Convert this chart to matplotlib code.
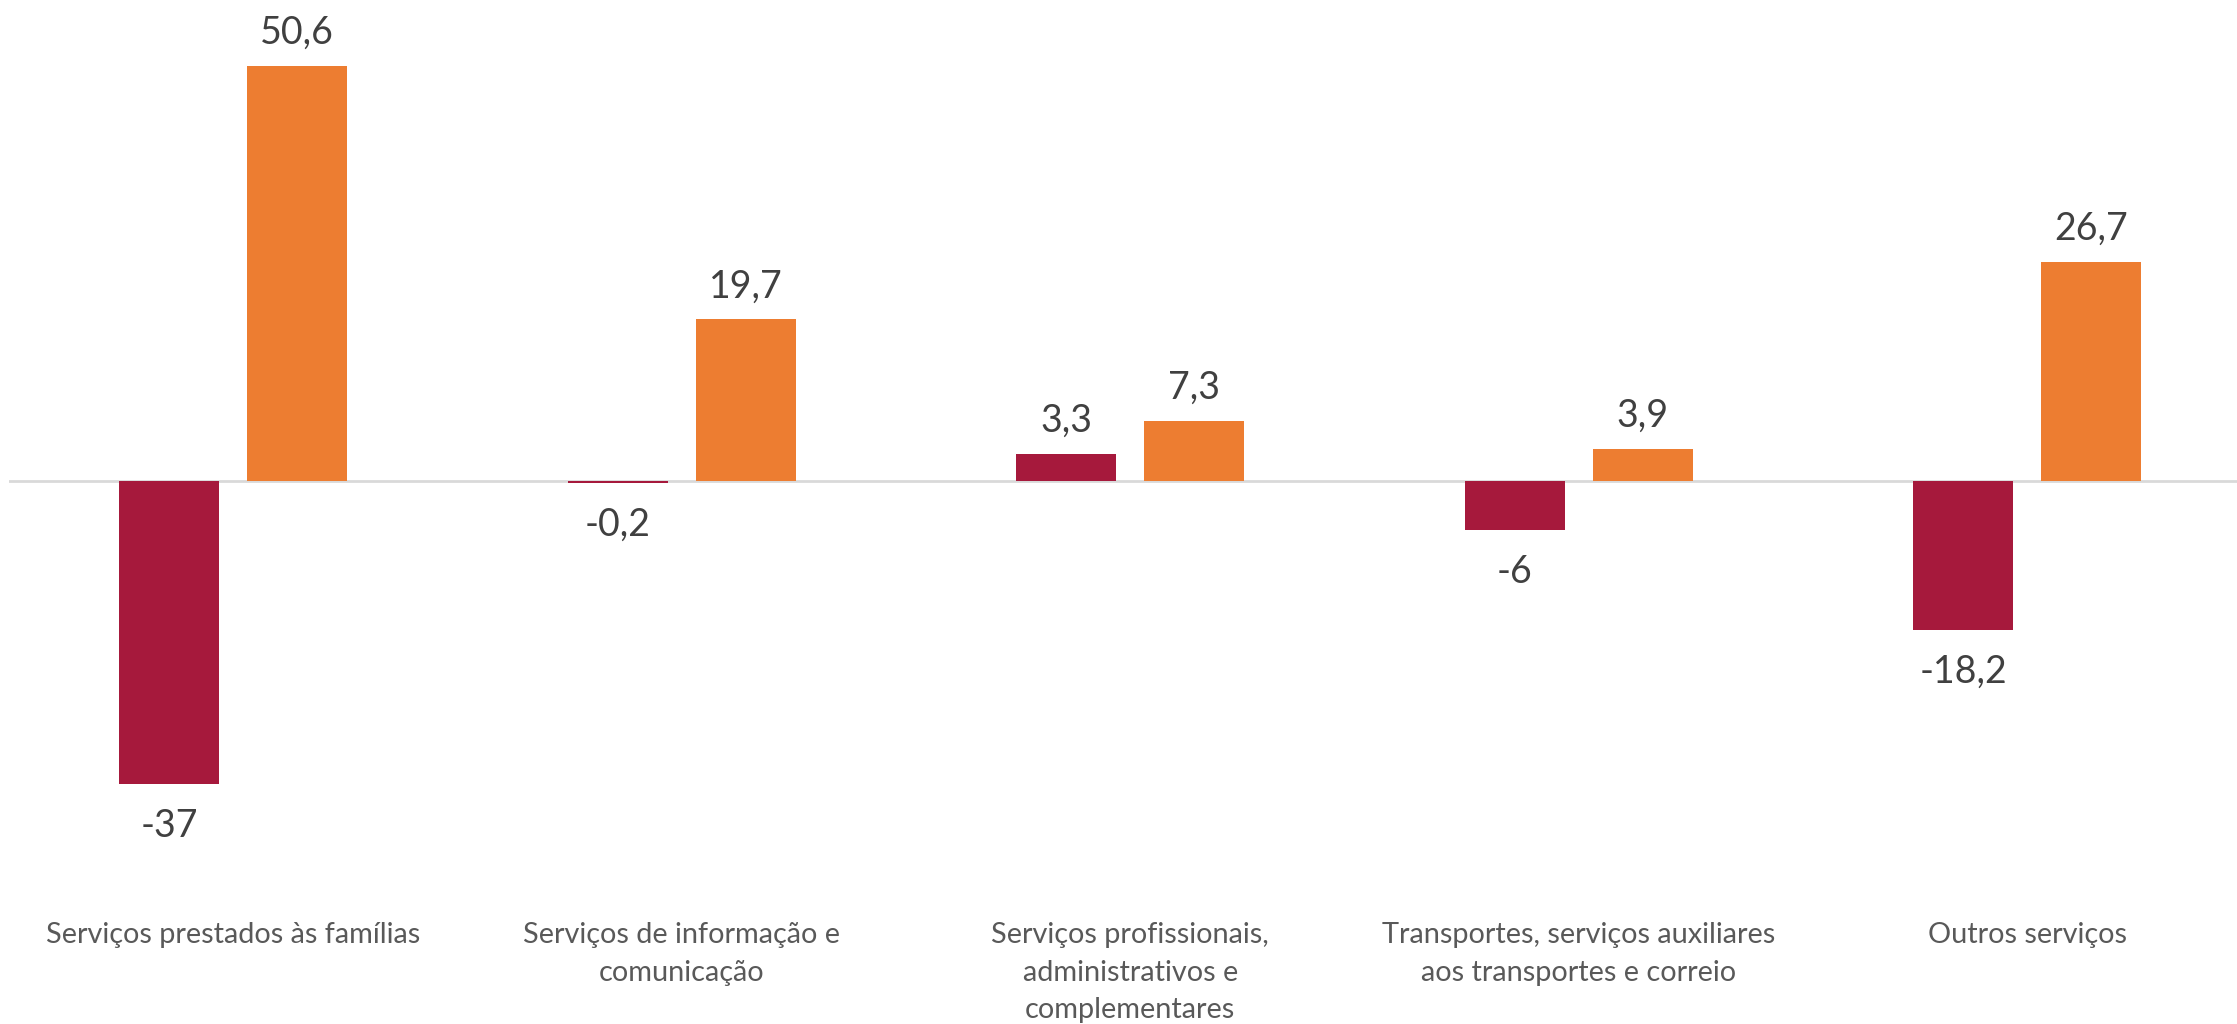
import matplotlib
matplotlib.use("Agg")
import matplotlib.pyplot as plt
import numpy as np

categories = [
    "Serviços prestados às famílias",
    "Serviços de informação e\ncomunicação",
    "Serviços profissionais,\nadministrativos e\ncomplementares",
    "Transportes, serviços auxiliares\naos transportes e correio",
    "Outros serviços",
]
serie_a = [-37, -0.2, 3.3, -6, -18.2]
serie_b = [50.6, 19.7, 7.3, 3.9, 26.7]
labels_a = ["-37", "-0,2", "3,3", "-6", "-18,2"]
labels_b = ["50,6", "19,7", "7,3", "3,9", "26,7"]

RED = "#A6193C"
ORANGE = "#ED7D31"
TXT = "#404040"
CAT_TXT = "#595959"
FONT = ["Lato", "DejaVu Sans"]

W, H, DPI = 2237, 1024, 100
fig = plt.figure(figsize=(W / DPI, H / DPI), dpi=DPI)
# one category slot is ~448.6 px wide; the last slot runs past the right edge
slot = 448.6
ax = fig.add_axes([8.7 / W, 0, 5 * slot / W, 1])

zero_px = 481
px_per_unit = 8.2
ax.set_ylim(-(H - zero_px) / px_per_unit, zero_px / px_per_unit)
ax.set_xlim(-0.5, 4.5)

x = np.arange(len(categories))
width = 0.2229
off = 0.1427

bars_a = ax.bar(x - off, serie_a, width, color=RED, zorder=2)
bars_b = ax.bar(x + off, serie_b, width, color=ORANGE, zorder=2)
ax.axhline(0, color="#D9D9D9", lw=2, zorder=1)


def label(bars, texts):
    for b, t in zip(bars, texts):
        v = b.get_height()
        cx = b.get_x() + b.get_width() / 2
        if v >= 0:
            ax.annotate(t, (cx, v), xytext=(0, 16), textcoords="offset points",
                        ha="center", va="baseline", fontsize=27, color=TXT,
                        family=FONT)
        else:
            ax.annotate(t, (cx, v), xytext=(0, -17), textcoords="offset points",
                        ha="center", va="top", fontsize=27, color=TXT,
                        family=FONT)


label(bars_a, labels_a)
label(bars_b, labels_b)

for xi, c in zip(x, categories):
    ax.text(xi, -(922 - zero_px) / px_per_unit, c, ha="center", va="top",
            fontsize=20.8, color=CAT_TXT, family=FONT, linespacing=1.55)

ax.axis("off")
fig.savefig("out.png", dpi=DPI, facecolor="white")
